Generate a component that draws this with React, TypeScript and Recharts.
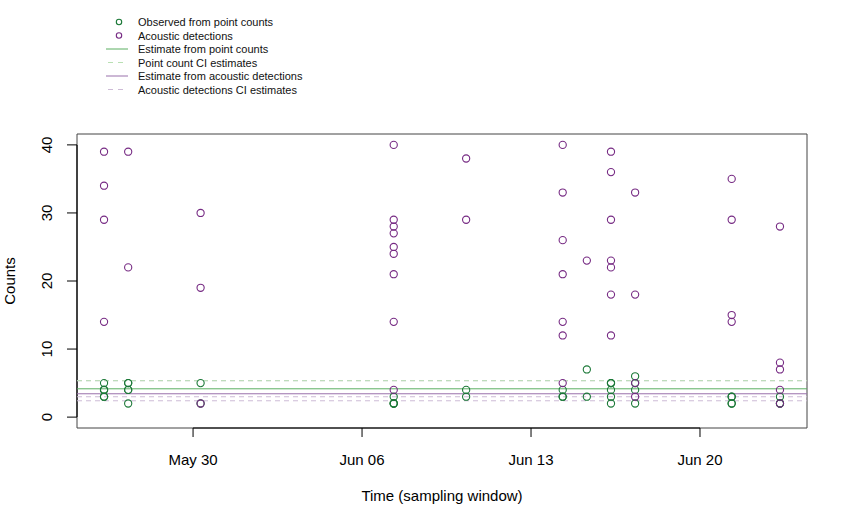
import React from 'react';
import { ScatterChart, Scatter, XAxis, YAxis, ReferenceLine, ReferenceArea, Legend } from 'recharts';

// ---- data ----
const sampleDates = ['2023-05-26', '2023-05-27', '2023-05-30', '2023-06-07', '2023-06-10', '2023-06-14', '2023-06-15', '2023-06-16', '2023-06-17', '2023-06-21', '2023-06-23'];
const sampleHour = 7.5;
const pointCounts = [[5, 4, 4, 4, 3, 3], [5, 5, 4, 4, 2], [5, 2], [3, 2, 2, 2], [4, 3], [4, 3, 3], [7, 3], [5, 5, 5, 4, 3, 2], [6, 5, 4, 2], [3, 3, 2, 2], [3, 2, 2]];
const acousticCounts = [[39, 34, 29, 14], [39, 22], [30, 19, 2], [40, 29, 28, 27, 25, 24, 21, 14, 4], [38, 29], [40, 33, 26, 21, 14, 12, 5], [23], [39, 36, 29, 23, 22, 18, 12], [33, 18, 5, 3], [35, 29, 15, 14], [28, 8, 7, 4, 2]];
const pointEstimate = 4.16;
const pointCI = [2.99, 5.35];
const acousticEstimate = 3.43;
const acousticCI = [2.4, 5.35];
const xTickDates = ['2023-05-30', '2023-06-06', '2023-06-13', '2023-06-20'];
const yTicks = [0, 10, 20, 30, 40];
const yRange = [0, 40];
const legendNames = ['Observed from point counts', 'Acoustic detections', 'Estimate from point counts', 'Point count CI estimates', 'Estimate from acoustic detections', 'Acoustic detections CI estimates'];

// ---- styles ----
const GREEN = '#1b7837';
const PURPLE = '#762a83';
const GREEN_LINE = '#5aae61';
const GREEN_CI = '#b9e0b3';
const PURPLE_LINE = '#9970ab';
const PURPLE_CI = '#cdbbd6';
const FONT = '"Liberation Sans", Arial, Helvetica, sans-serif';
const legendKinds = [
  { kind: 'point', color: GREEN },
  { kind: 'point', color: PURPLE },
  { kind: 'line', color: GREEN_LINE },
  { kind: 'dash', color: GREEN_CI },
  { kind: 'line', color: PURPLE_LINE },
  { kind: 'dash', color: PURPLE_CI },
];

const HOUR = 3600000;
const toMs = (d: string) => Date.parse(d + 'T00:00:00Z');
const xOf = (d: string) => toMs(d) + sampleHour * HOUR;

const pointData = sampleDates.flatMap((d, i) => pointCounts[i].map((y) => ({ x: xOf(d), y })));
const acousticData = sampleDates.flatMap((d, i) => acousticCounts[i].map((y) => ({ x: xOf(d), y })));

const allX = sampleDates.map(xOf);
const xMin = Math.min(...allX);
const xMax = Math.max(...allX);
const xPad = (xMax - xMin) * 0.04;
const xDomain = [xMin - xPad, xMax + xPad];
const yPad = (yRange[1] - yRange[0]) * 0.04;
const yDomain = [yRange[0] - yPad, yRange[1] + yPad];
const xTicks = xTickDates.map(toMs);

const MONTHS = ['Jan', 'Feb', 'Mar', 'Apr', 'May', 'Jun', 'Jul', 'Aug', 'Sep', 'Oct', 'Nov', 'Dec'];
const fmtDate = (v: number) => {
  const d = new Date(v);
  return MONTHS[d.getUTCMonth()] + ' ' + String(d.getUTCDate()).padStart(2, '0');
};

const XTick = (props: any) => {
  const { x, payload } = props;
  return (
    <text x={x} y={465} textAnchor="middle" fontSize={15} fontFamily={FONT} fill="#000">
      {fmtDate(payload.value)}
    </text>
  );
};

const YTick = (props: any) => {
  const { y, payload } = props;
  const bx = 52;
  return (
    <text x={bx} y={y} transform={`rotate(-90, ${bx}, ${y})`} textAnchor="middle" fontSize={15} fontFamily={FONT} fill="#000">
      {payload.value}
    </text>
  );
};

const XTitle = () => (
  <text x={442} y={501} textAnchor="middle" fontSize={15} fontFamily={FONT} fill="#000">
    Time (sampling window)
  </text>
);

const YTitle = () => (
  <text x={15} y={281} transform="rotate(-90, 15, 281)" textAnchor="middle" fontSize={15} fontFamily={FONT} fill="#000">
    Counts
  </text>
);

const Circle = (color: string) => (props: any) => {
  const { cx, cy } = props;
  if (cx == null || cy == null) return <g />;
  return <circle cx={cx} cy={cy} r={3.6} fill="none" stroke={color} strokeWidth={1.1} />;
};

const LegendBox = () => (
  <svg width={320} height={105} style={{ display: 'block' }}>
    {legendNames.map((name, i) => {
      const cy = 22 + i * 13.5;
      const k = legendKinds[i];
      return (
        <g key={name}>
          {k.kind === 'point' && <circle cx={119} cy={cy} r={2.7} fill="none" stroke={k.color} strokeWidth={1.1} />}
          {k.kind === 'line' && <line x1={106} x2={128} y1={cy} y2={cy} stroke={k.color} strokeWidth={1} />}
          {k.kind === 'dash' && <line x1={106} x2={128} y1={cy} y2={cy} stroke={k.color} strokeWidth={1} strokeDasharray="5 5" strokeDashoffset={-2} />}
          <text x={138} y={cy + 4} fontSize={11} fontFamily={FONT} fill="#111">
            {name}
          </text>
        </g>
      );
    })}
  </svg>
);

export default function App() {
  return (
    <div style={{ position: 'absolute', left: 0, top: 0, width: 845, height: 525, background: '#fff' }}>
      <ScatterChart width={845} height={525} margin={{ top: 134, right: 38, bottom: 0, left: 0 }}>
        <XAxis
          type="number"
          dataKey="x"
          domain={xDomain}
          ticks={xTicks}
          allowDataOverflow
          height={97}
          axisLine={false}
          tickSize={9}
          tickLine={{ stroke: '#000' }}
          tick={<XTick />}
          label={<XTitle />}
        />
        <YAxis
          type="number"
          dataKey="y"
          domain={yDomain}
          ticks={yTicks}
          allowDataOverflow
          width={77}
          axisLine={false}
          tickSize={10}
          tickLine={{ stroke: '#000' }}
          tick={<YTick />}
          label={<YTitle />}
        />
        <ReferenceArea x1={xDomain[0]} x2={xDomain[1]} y1={yDomain[0]} y2={yDomain[1]} fill="none" stroke="#444" strokeWidth={1} />
        <ReferenceLine segment={[{ x: xTicks[0], y: yDomain[0] }, { x: xTicks[xTicks.length - 1], y: yDomain[0] }]} stroke="#000" strokeWidth={1.2} />
        <ReferenceLine segment={[{ x: xDomain[0], y: yTicks[0] }, { x: xDomain[0], y: yTicks[yTicks.length - 1] }]} stroke="#000" strokeWidth={1.2} />
        <Scatter name="Observed from point counts" data={pointData} shape={Circle(GREEN)} isAnimationActive={false} />
        <Scatter name="Acoustic detections" data={acousticData} shape={Circle(PURPLE)} isAnimationActive={false} />
        <ReferenceLine y={acousticCI[0]} stroke={PURPLE_CI} strokeDasharray="5 4" />
        <ReferenceLine y={acousticCI[1]} stroke={PURPLE_CI} strokeDasharray="5 4" />
        <ReferenceLine y={pointCI[0]} stroke={PURPLE_CI} strokeDasharray="5 4" />
        <ReferenceLine y={pointCI[1]} stroke={GREEN_CI} strokeDasharray="5 4" />
        <ReferenceLine y={acousticEstimate} stroke={PURPLE_LINE} strokeWidth={1} />
        <ReferenceLine y={pointEstimate} stroke={GREEN_LINE} strokeWidth={1} />
        <Legend
          layout="vertical"
          align="center"
          verticalAlign="middle"
          wrapperStyle={{ position: 'absolute', left: 0, top: 0, width: 320, height: 105 }}
          content={() => <LegendBox />}
        />
      </ScatterChart>
    </div>
  );
}
